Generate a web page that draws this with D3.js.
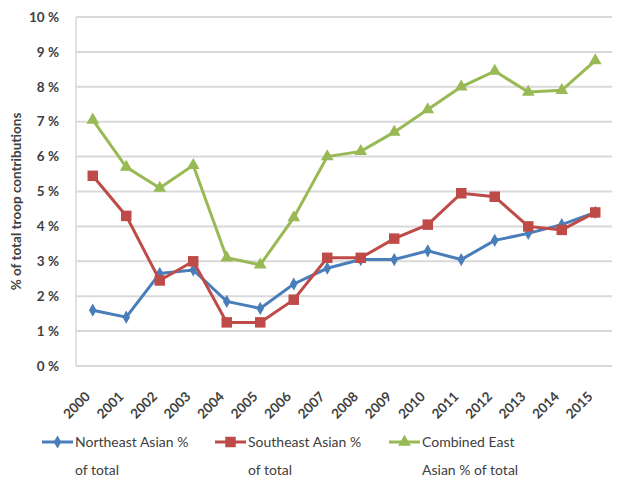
<!DOCTYPE html>
<html>
<head>
<meta charset="utf-8">
<script src="https://cdn.jsdelivr.net/npm/d3@7"></script>
<style>
  body { margin: 0; background: #fff; }
  text { font-family: Lato, "Open Sans", sans-serif; fill: #404040; }
</style>
</head>
<body>
<div id="chart"></div>
<script>
// values (% of total troop contributions)
var years = ["2000","2001","2002","2003","2004","2005","2006","2007","2008","2009","2010","2011","2012","2013","2014","2015"];
var northeast = [1.6, 1.4, 2.65, 2.75, 1.85, 1.65, 2.35, 2.8, 3.05, 3.05, 3.3, 3.05, 3.6, 3.8, 4.05, 4.4];
var southeast = [5.45, 4.3, 2.45, 3.0, 1.25, 1.25, 1.9, 3.1, 3.1, 3.65, 4.05, 4.95, 4.85, 4.0, 3.9, 4.4];
var combined = [7.05, 5.7, 5.1, 5.75, 3.1, 2.9, 4.25, 6.0, 6.15, 6.7, 7.35, 8.0, 8.45, 7.85, 7.9, 8.75];
var yTicks = [0, 1, 2, 3, 4, 5, 6, 7, 8, 9, 10];

var seriesList = [
    {name: ["Northeast Asian %", "of total"], values: northeast, color: "#4a7ebb", symbol: d3.symbolDiamond, size: 50},
    {name: ["Southeast Asian %", "of total"], values: southeast, color: "#be4b48", symbol: d3.symbolSquare, size: 110},
    {name: ["Combined East", "Asian % of total"], values: combined, color: "#98b954", symbol: d3.symbolTriangle, size: 70}
];

var W = 619, H = 477;
var margin = {top: 17, right: 7, bottom: 111, left: 76};
var width = W - margin.left - margin.right;
var height = H - margin.top - margin.bottom;

var svg = d3.select("#chart").append("svg")
    .attr("width", W)
    .attr("height", H);

var g = svg.append("g")
    .attr("transform", "translate(" + margin.left + "," + margin.top + ")");

var x = d3.scaleBand().domain(years).range([0, width]);
var y = d3.scaleLinear().domain([0, 10]).range([height, 0]);

// gridlines
g.selectAll("line.grid")
    .data(yTicks)
    .enter().append("line")
    .attr("class", "grid")
    .attr("x1", 0).attr("x2", width)
    .attr("y1", function(d) { return y(d); })
    .attr("y2", function(d) { return y(d); })
    .style("stroke", "#d9d9d9")
    .style("stroke-width", 2);

g.append("line")
    .attr("x1", 0).attr("x2", 0)
    .attr("y1", 0).attr("y2", height)
    .style("stroke", "#d9d9d9")
    .style("stroke-width", 1.5);

// y tick labels
g.selectAll("text.ytick")
    .data(yTicks)
    .enter().append("text")
    .attr("class", "ytick")
    .attr("x", -17)
    .attr("y", function(d) { return y(d); })
    .attr("dy", "0.35em")
    .attr("text-anchor", "end")
    .style("font-size", "13.5px")
    .style("font-weight", "bold")
    .text(function(d) { return d + " %"; });

// x tick labels
g.selectAll("text.xtick")
    .data(years)
    .enter().append("text")
    .attr("class", "xtick")
    .attr("transform", function(d) {
        return "translate(" + (x(d) + x.bandwidth() / 2 - 5) + "," + (height + 28) + ") rotate(-45)";
    })
    .attr("text-anchor", "end")
    .attr("dy", "0.35em")
    .style("font-size", "13.5px")
    .style("font-weight", "bold")
    .text(function(d) { return d; });

// axis title
svg.append("text")
    .attr("transform", "translate(21," + (margin.top + height / 2 + 10) + ") rotate(-90)")
    .attr("text-anchor", "middle")
    .style("font-size", "13.5px")
    .style("font-weight", "bold")
    .text("% of total troop contributions");

var line = d3.line()
    .x(function(d, i) { return x(years[i]) + x.bandwidth() / 2; })
    .y(function(d) { return y(d); });

seriesList.forEach(function(s) {
    g.append("path")
        .datum(s.values)
        .attr("d", line)
        .style("fill", "none")
        .style("stroke", s.color)
        .style("stroke-width", 3);

    g.selectAll(null)
        .data(s.values)
        .enter().append("path")
        .attr("transform", function(d, i) {
            return "translate(" + (x(years[i]) + x.bandwidth() / 2) + "," + y(d) + ")";
        })
        .attr("d", d3.symbol().type(s.symbol).size(s.size))
        .style("fill", s.color);
});

// legend
var legendX = [42, 215, 389];
var legend = svg.selectAll("g.legend")
    .data(seriesList)
    .enter().append("g")
    .attr("class", "legend")
    .attr("transform", function(d, i) { return "translate(" + legendX[i] + ",442)"; });

legend.append("line")
    .attr("x1", 0).attr("x2", 31)
    .style("stroke", function(d) { return d.color; })
    .style("stroke-width", 3);

legend.append("path")
    .attr("transform", "translate(15.5,0)")
    .attr("d", function(d) { return d3.symbol().type(d.symbol).size(d.size)(); })
    .style("fill", function(d) { return d.color; });

legend.each(function(d) {
    var t = d3.select(this).append("text")
        .attr("x", 33)
        .attr("y", 0)
        .style("font-size", "14px");
    d.name.forEach(function(part, k) {
        t.append("tspan")
            .attr("x", 33)
            .attr("dy", k == 0 ? "0.35em" : "2em")
            .text(part);
    });
});
</script>
</body>
</html>
